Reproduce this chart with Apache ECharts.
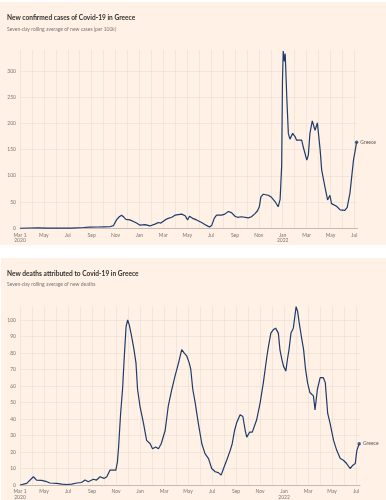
<!DOCTYPE html>
<html><head><meta charset="utf-8">
<script src="https://cdn.jsdelivr.net/npm/echarts@6/dist/echarts.min.js"></script>
<style>html,body{margin:0;padding:0;background:#fff}#c{width:386px;height:500px}</style>
</head><body><div id="c"></div>
<script>
// ---- Data ----
var caseDates = ['2020-03-01','2020-03-25','2020-04-15','2020-05-10','2020-06-10','2020-07-10','2020-08-10','2020-08-25','2020-09-15','2020-10-01','2020-10-16','2020-10-25','2020-11-02','2020-11-09','2020-11-15','2020-11-21','2020-11-26','2020-12-06','2020-12-15','2020-12-23','2021-01-01','2021-01-14','2021-01-26','2021-02-08','2021-02-17','2021-02-23','2021-03-06','2021-03-14','2021-03-23','2021-03-31','2021-04-04','2021-04-17','2021-04-26','2021-05-02','2021-05-07','2021-05-15','2021-05-25','2021-06-07','2021-06-18','2021-06-27','2021-07-03','2021-07-09','2021-07-15','2021-07-28','2021-08-05','2021-08-14','2021-08-22','2021-08-31','2021-09-06','2021-09-17','2021-10-04','2021-10-12','2021-10-21','2021-10-27','2021-11-01','2021-11-05','2021-11-11','2021-11-24','2021-12-02','2021-12-11','2021-12-19','2021-12-24','2021-12-28','2021-12-30','2022-01-01','2022-01-04','2022-01-06','2022-01-10','2022-01-14','2022-01-18','2022-01-25','2022-01-31','2022-02-04','2022-02-17','2022-02-21','2022-03-02','2022-03-06','2022-03-10','2022-03-16','2022-03-23','2022-03-29','2022-04-05','2022-04-09','2022-04-17','2022-04-24','2022-04-30','2022-05-04','2022-05-17','2022-05-26','2022-06-07','2022-06-13','2022-06-20','2022-06-29','2022-07-07'];
var caseValues = [0.1,0.6,0.8,0.4,0.2,0.4,1.5,2.2,2.5,2.8,3,5,16,22,25,21,17,16,13,10,6,7,4.5,8,11,10,16,19,21,25,28,27,24,16,23,19,16,11,6,2.5,6,19,25,25,27,32,30,23,21,22,20,22,28,33,41,60,65,63,59,51,41,55,120,280,338,318,333,250,181,170,181,175,168,168,155,130,140,181,205,187,201,150,111,80,54,63,47,42,35,34,40,67,130,164];

var deathDates = ['2020-03-01','2020-03-18','2020-04-04','2020-04-12','2020-04-25','2020-05-08','2020-05-16','2020-05-20','2020-06-02','2020-06-15','2020-06-27','2020-07-10','2020-07-23','2020-08-04','2020-08-13','2020-08-21','2020-09-03','2020-09-11','2020-09-20','2020-09-24','2020-09-30','2020-10-07','2020-10-15','2020-10-24','2020-10-30','2020-11-03','2020-11-06','2020-11-11','2020-11-16','2020-11-20','2020-11-25','2020-11-29','2020-12-03','2020-12-09','2020-12-15','2020-12-20','2020-12-24','2020-12-30','2021-01-08','2021-01-16','2021-01-25','2021-01-31','2021-02-08','2021-02-15','2021-02-22','2021-03-04','2021-03-12','2021-03-21','2021-03-29','2021-04-07','2021-04-15','2021-04-21','2021-04-28','2021-05-04','2021-05-08','2021-05-13','2021-05-19','2021-05-27','2021-06-05','2021-06-13','2021-06-22','2021-06-30','2021-07-09','2021-07-17','2021-07-24','2021-07-30','2021-08-07','2021-08-16','2021-08-21','2021-08-27','2021-09-01','2021-09-10','2021-09-17','2021-09-23','2021-09-27','2021-10-04','2021-10-11','2021-10-16','2021-10-22','2021-10-31','2021-11-08','2021-11-17','2021-11-21','2021-11-27','2021-12-03','2021-12-09','2021-12-16','2021-12-20','2021-12-25','2021-12-29','2022-01-04','2022-01-08','2022-01-12','2022-01-17','2022-01-23','2022-01-30','2022-02-03','2022-02-07','2022-02-13','2022-02-18','2022-02-23','2022-02-28','2022-03-06','2022-03-15','2022-03-19','2022-03-25','2022-04-01','2022-04-09','2022-04-14','2022-04-20','2022-04-26','2022-05-05','2022-05-13','2022-05-22','2022-05-30','2022-06-07','2022-06-16','2022-06-23','2022-06-29','2022-07-03','2022-07-09'];
var deathValues = [0,1,5,3,2.8,2,1.2,2,1,0.5,0.3,0.5,1.2,1.5,3,2,3.5,3,5,6,4,5,9,9,9,14,23,43,58,76,96,100,97,90,82,74,58,48,37.5,27,25,22,23,22,25,33,48,58,66,74,82,80,78,74,70,58,50,37.5,25,19,16,10,8,7.5,6,10,15,21,25,33,37.5,42.5,41.5,33,29,32,32,33,39.5,50,62,78,84,92,94,95,92,82,76,72,69,76,82,92,95,108,105,98,89,82,70,62,56,54,45.5,58,65,65,62,43.5,37.5,27,21,16,15,13,10,12,13,21,25];

var monthNames = ['Jan','Feb','Mar','Apr','May','Jun','Jul','Aug','Sep','Oct','Nov','Dec'];
var seriesName = 'Greece';

// ---- helpers ----
var origin = Date.UTC(2020,2,1);
function dayIndex(s){var p=s.split('-');return (Date.UTC(+p[0],+p[1]-1,+p[2])-origin)/86400000;}
function pairs(ds,vs){return ds.map(function(d,i){return [dayIndex(d),vs[i]];});}
var MONTH = 30.4375;
function xLabel(v){
  var k=Math.round(v/MONTH);
  if(k%2) return '';
  var m=(2+k)%12, y=2020+Math.floor((2+k)/12);
  if(k===0) return 'Mar 1\n2020';
  if(m===0 && y===2022) return 'Jan\n2022';
  return monthNames[m];
}
var FONT='Lato';
var peach='#fff1e5', grid='#eadfd4', axisTxt='#7d7570', line='#1d3c6c';
function xAxis(gi,max){return {type:'value',gridIndex:gi,min:0,max:max,interval:MONTH,
  axisLine:{show:true,lineStyle:{color:'#b9afa6',width:0.8}},axisTick:{show:false},
  splitLine:{show:true,showMaxLine:false,lineStyle:{color:grid,width:0.6}},
  axisLabel:{formatter:xLabel,showMaxLabel:false,fontSize:5,lineHeight:5.5,color:axisTxt,fontFamily:FONT,margin:4}};}
function yAxis(gi,max,iv){return {type:'value',gridIndex:gi,min:0,max:max,interval:iv,
  axisLine:{show:false},axisTick:{show:false},
  splitLine:{show:true,showMaxLine:false,lineStyle:{color:grid,width:0.6}},
  axisLabel:{showMaxLabel:false,fontSize:5,color:axisTxt,fontFamily:FONT,margin:4}};}

var cData=pairs(caseDates,caseValues), dData=pairs(deathDates,deathValues);
var chart=echarts.init(document.getElementById('c'),null,{renderer:'canvas'});
chart.setOption({
  backgroundColor:'#ffffff',
  animation:false,
  graphic:[
    {type:'rect',shape:{x:0,y:2,width:386,height:243},style:{fill:peach},z:-10},
    {type:'rect',shape:{x:1,y:258,width:385,height:242},style:{fill:peach},z:-10},
    {type:'text',left:7,top:14,style:{text:'New confirmed cases of Covid-19 in Greece',fontSize:6.6,fontFamily:FONT,fill:'#33302e',fontWeight:'bold'}},
    {type:'text',left:7,top:26.5,style:{text:'Seven-day rolling average of new cases (per 100k)',fontSize:5,fontFamily:FONT,fill:'#7d7570'}},
    {type:'text',left:7,top:270,style:{text:'New deaths attributed to Covid-19 in Greece',fontSize:6.6,fontFamily:FONT,fill:'#33302e',fontWeight:'bold'}},
    {type:'text',left:7,top:282,style:{text:'Seven-day rolling average of new deaths',fontSize:5,fontFamily:FONT,fill:'#7d7570'}}
  ],
  grid:[{left:20,top:50,width:337.4,height:178.3},{left:20,top:306.7,width:340,height:178.6}],
  xAxis:[xAxis(0,860),xAxis(1,862)],
  yAxis:[yAxis(0,340,50),yAxis(1,108,10)],
  series:[
    {type:'line',xAxisIndex:0,yAxisIndex:0,data:cData,showSymbol:false,lineStyle:{color:line,width:1.2},z:3},
    {type:'line',xAxisIndex:1,yAxisIndex:1,data:dData,showSymbol:false,lineStyle:{color:line,width:1.2},z:3},
    {type:'scatter',xAxisIndex:0,yAxisIndex:0,data:[cData[cData.length-1]],symbolSize:3.5,itemStyle:{color:line},z:4,
      label:{show:true,position:'right',distance:2,formatter:seriesName,fontSize:5,color:'#33302e',fontFamily:FONT}},
    {type:'scatter',xAxisIndex:1,yAxisIndex:1,data:[dData[dData.length-1]],symbolSize:3.5,itemStyle:{color:line},z:4,
      label:{show:true,position:'right',distance:2,formatter:seriesName,fontSize:5,color:'#33302e',fontFamily:FONT}}
  ]
});
</script></body></html>
